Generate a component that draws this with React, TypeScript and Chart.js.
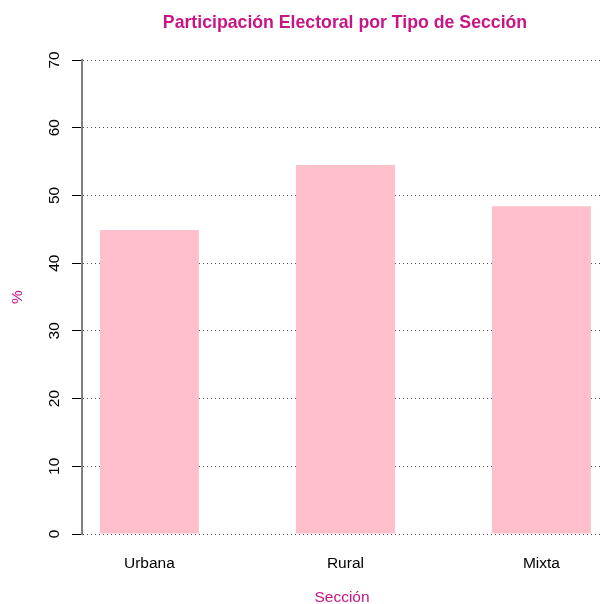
import React, { useEffect, useRef } from "react";
import { Chart, registerables } from "chart.js";

Chart.register(...registerables);

const categories = ["Urbana", "Rural", "Mixta"];
const participation = [44.9, 54.5, 48.4];
const yTickValues = [0, 10, 20, 30, 40, 50, 60, 70];
const titleText = "Participación Electoral por Tipo de Sección";

const FONT = "'Liberation Sans', Arial, Helvetica, sans-serif";
const ACCENT = "#C71585";

const rLikeText = {
  id: "rLikeText",
  afterDraw(chart: any) {
    const scale = chart.scales.y;
    const area = chart.chartArea;
    const ctx = chart.ctx;
    ctx.save();
    ctx.fillStyle = "#000";
    ctx.font = `15.5px ${FONT}`;
    ctx.textAlign = "center";
    ctx.textBaseline = "middle";
    for (const v of yTickValues) {
      const y = scale.getPixelForValue(v);
      ctx.save();
      ctx.translate(scale.right - 27.5, y);
      ctx.rotate(-Math.PI / 2);
      ctx.fillText(String(v), 0, 0);
      ctx.restore();
    }
    // main title, centred over the plot region like R
    ctx.fillStyle = ACCENT;
    ctx.font = `bold 17.7px ${FONT}`;
    ctx.fillText(titleText, (area.left + area.right) / 2 + 3, 23);
    ctx.restore();
  },
};

export default function App() {
  const ref = useRef<HTMLCanvasElement | null>(null);

  useEffect(() => {
    document.body.style.margin = "0";
    const canvas = ref.current!;
    const chart = new Chart(canvas, {
      type: "bar",
      data: {
        datasets: [
          {
            data: participation.map((v, i) => ({ x: i, y: v })),
            backgroundColor: "#FFC0CB",
            borderWidth: 0,
            categoryPercentage: 1,
            barPercentage: 0.505,
          },
        ],
      },
      options: {
        responsive: false,
        animation: false,
        layout: { padding: { top: 60, left: 0, right: 0, bottom: 0 } },
        plugins: {
          legend: { display: false },
          tooltip: { enabled: false },
          title: { display: false },
        },
        scales: {
          x: {
            type: "linear",
            offset: false,
            bounds: "data",
            min: -0.344,
            max: 2.309,
            afterBuildTicks: (s: any) => {
              s.ticks = categories.map((_, i) => ({ value: i }));
            },
            afterFit: (s: any) => {
              s.height = 70;
            },
            ticks: {
              callback: (v: any) => categories[v as number] ?? "",
              color: "#000",
              font: { family: FONT, size: 15.5 },
              padding: 20.5,
              maxRotation: 0,
              autoSkip: false,
            },
            grid: { display: false, drawTicks: false },
            border: { display: false },
            title: {
              display: true,
              text: "Sección",
              color: ACCENT,
              font: { family: FONT, size: 15.5, lineHeight: 1.2 },
              padding: { top: 0, bottom: -3.3 },
            },
          },
          y: {
            min: 0,
            max: 70,
            afterBuildTicks: (s: any) => {
              s.ticks = yTickValues.map((v) => ({ value: v }));
            },
            afterFit: (s: any) => {
              s.width = 82;
            },
            ticks: { display: false },
            grid: {
              color: "#555",
              lineWidth: 1,
              drawTicks: true,
              tickLength: 10,
              tickColor: "#000",
              tickWidth: 1,
              tickBorderDash: [],
            },
            border: { display: true, color: "#808080", width: 2, dash: [1, 3] },
            title: {
              display: true,
              text: "%",
              color: ACCENT,
              font: { family: FONT, size: 15.5, lineHeight: 1.2 },
              padding: { top: 8, bottom: 0 },
            },
          },
        },
      },
      plugins: [rLikeText],
    } as any);
    return () => chart.destroy();
  }, []);

  return (
    <div style={{ position: "absolute", left: 0, top: 0, width: 602, height: 604 }}>
      <canvas ref={ref} width={602} height={604} />
    </div>
  );
}
